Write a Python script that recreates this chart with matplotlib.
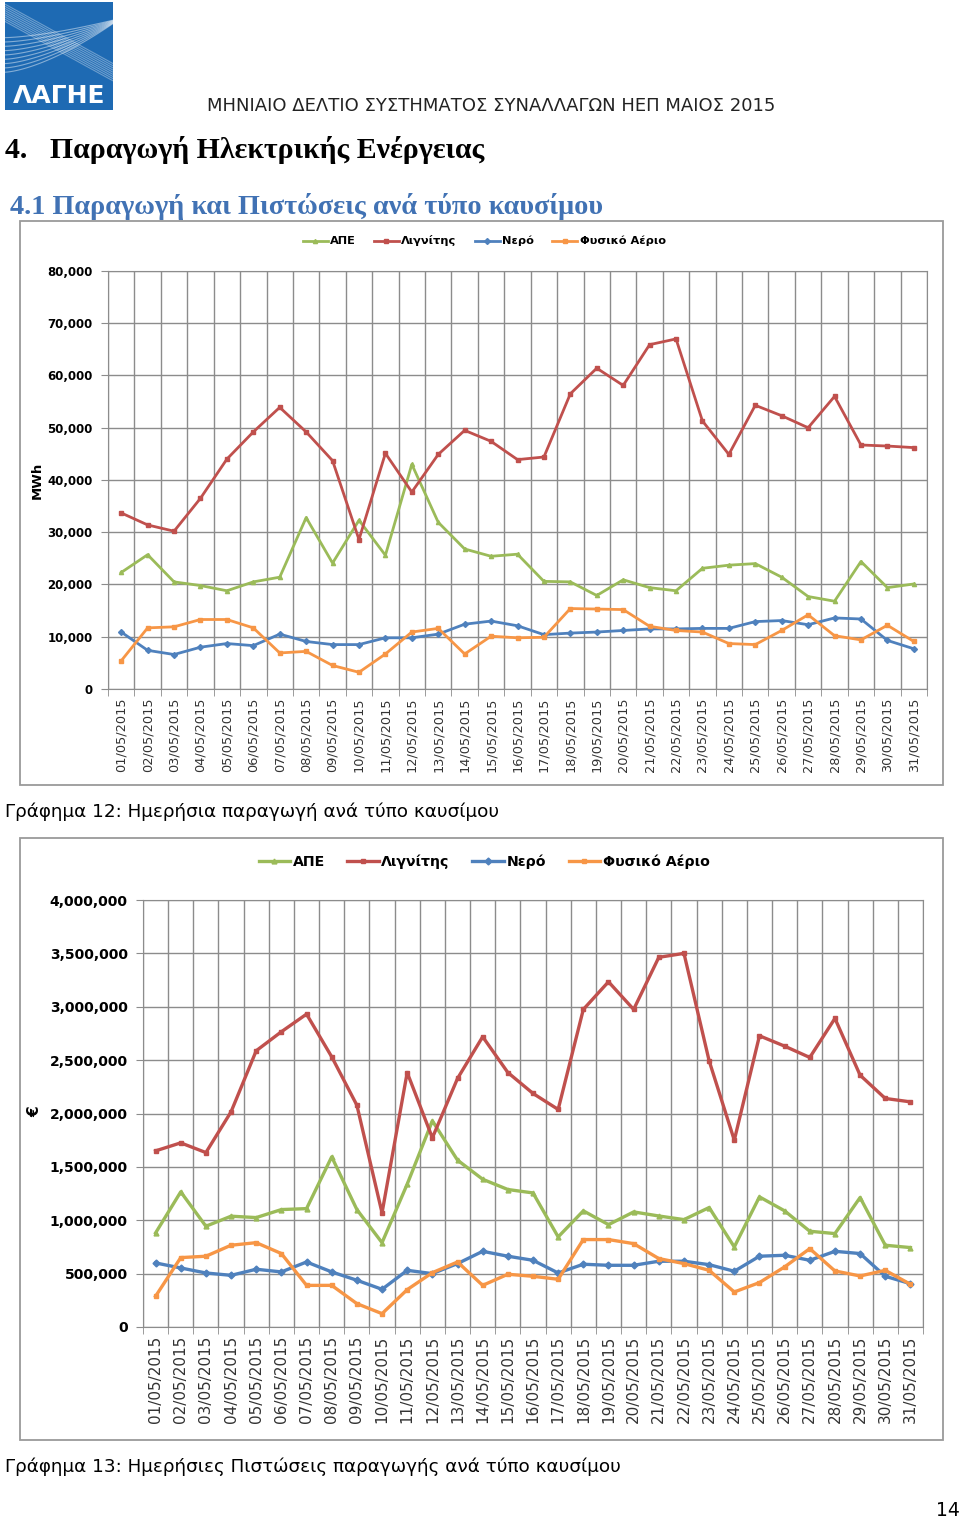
"""Daily production and credits per fuel type, May 2015 (two stacked charts
on a report page)."""

import matplotlib
matplotlib.use("Agg")
import matplotlib.pyplot as plt
from matplotlib.patches import Rectangle
from matplotlib.ticker import FuncFormatter, MultipleLocator
import numpy as np

W, H = 960, 1519

days = np.arange(1, 32)
date_labels = [f"{d:02d}/05/2015" for d in days]

series_names = ["ΑΠΕ", "Λιγνίτης", "Νερό", "Φυσικό Αέριο"]

# Chart 12: daily production (MWh)
ape_mwh = [22300, 25700, 20500, 19800, 18800, 20500, 21400, 32800, 24100, 32300,
           25600, 43000, 31900, 26800, 25400, 25800, 20600, 20500, 17900, 20900,
           19400, 18800, 23100, 23700, 24000, 21400, 17700, 16800, 24400, 19400, 20100]
lignite_mwh = [33700, 31400, 30200, 36500, 44000, 49200, 53900, 49200, 43700, 28600,
               45100, 37700, 44900, 49500, 47400, 43900, 44400, 56500, 61400, 58100,
               65900, 67000, 51300, 44900, 54300, 52300, 50000, 56000, 46700, 46500, 46200]
hydro_mwh = [10900, 7400, 6600, 8000, 8700, 8300, 10500, 9100, 8500, 8500,
             9800, 9800, 10500, 12400, 13000, 12100, 10400, 10700, 10900, 11200,
             11500, 11500, 11600, 11600, 12900, 13100, 12300, 13600, 13400, 9300, 7700]
gas_mwh = [5400, 11700, 11900, 13300, 13300, 11700, 6900, 7200, 4500, 3200,
           6700, 10900, 11600, 6700, 10100, 9800, 9900, 15400, 15300, 15200,
           12000, 11200, 10900, 8700, 8500, 11200, 14200, 10200, 9400, 12200, 9100]

# Chart 13: daily production credits (EUR)
ape_eur = [881000, 1266000, 944000, 1038000, 1025000, 1100000, 1109000, 1594000,
           1100000, 790000, 1338000, 1931000, 1563000, 1384000, 1288000, 1256000,
           844000, 1088000, 959000, 1078000, 1040000, 1006000, 1119000, 750000,
           1219000, 1088000, 897000, 875000, 1213000, 766000, 744000]
lignite_eur = [1650000, 1725000, 1634000, 2016000, 2588000, 2766000, 2931000, 2531000,
               2078000, 1069000, 2384000, 1772000, 2328000, 2719000, 2384000, 2188000,
               2038000, 2975000, 3234000, 2975000, 3463000, 3500000, 2494000, 1750000,
               2728000, 2631000, 2525000, 2891000, 2359000, 2141000, 2109000]
hydro_eur = [600000, 553000, 506000, 484000, 541000, 516000, 609000, 516000,
             438000, 353000, 531000, 500000, 594000, 709000, 663000, 625000,
             506000, 588000, 578000, 578000, 616000, 616000, 584000, 522000,
             663000, 672000, 625000, 709000, 688000, 475000, 406000]
gas_eur = [288000, 650000, 663000, 766000, 790000, 688000, 390000, 390000,
           219000, 125000, 350000, 509000, 609000, 390000, 494000, 475000,
           447000, 819000, 819000, 781000, 641000, 594000, 531000, 328000,
           416000, 563000, 734000, 525000, 478000, 531000, 400000]

COLORS = ["#9bbb59", "#c0504d", "#4f81bd", "#f79646"]
MARKERS = ["^", "s", "D", "s"]
GRID = "#8c8c8c"
SERIF = ["Liberation Serif", "DejaVu Serif"]


def rect(x0, y0, x1, y1):
    """Pixel box (top-left origin) -> figure fraction box."""
    return [x0 / W, 1 - y1 / H, (x1 - x0) / W, (y1 - y0) / H]


def draw_chart(fig, box, plot, series, ymax, ystep, ylabel, ylabel_xy,
               legend_y, fs_y, fs_x, fs_leg, lw, ms):
    fig.patches.append(Rectangle((box[0] / W, 1 - box[3] / H),
                                 (box[2] - box[0]) / W, (box[3] - box[1]) / H,
                                 transform=fig.transFigure, fill=False,
                                 edgecolor="#9a9a9a", linewidth=1.3))
    ax = fig.add_axes(rect(*plot))
    handles = []
    for vals, name, c, m in zip(series, series_names, COLORS, MARKERS):
        h, = ax.plot(days, vals, color=c, linewidth=lw, marker=m,
                     markersize=ms, label=name, zorder=3)
        handles.append(h)
    ax.set_xlim(0.5, 31.5)
    ax.set_ylim(0, ymax)
    ax.yaxis.set_major_locator(MultipleLocator(ystep))
    ax.yaxis.set_major_formatter(FuncFormatter(lambda v, p: f"{v:,.0f}"))
    ax.set_xticks(days)
    ax.set_xticklabels(date_labels, rotation=90, fontsize=fs_x, color="#333333")
    ax.set_xticks(np.arange(0.5, 32, 1), minor=True)
    ax.tick_params(axis="x", which="major", length=0, pad=6)
    ax.tick_params(axis="x", which="minor", length=5, color=GRID, direction="out")
    ax.tick_params(axis="y", length=5, color=GRID, labelsize=fs_y, pad=6)
    for t in ax.get_yticklabels():
        t.set_fontweight("bold")
    ax.grid(True, which="minor", axis="x", color=GRID, linewidth=1)
    ax.grid(True, which="major", axis="y", color=GRID, linewidth=1)
    for s in ax.spines.values():
        s.set_color(GRID)
    fig.text(ylabel_xy[0] / W, 1 - ylabel_xy[1] / H, ylabel, rotation=90,
             ha="center", va="center", fontsize=fs_y + 1, fontweight="bold")
    fig.legend(handles=handles, loc="center", ncol=4, frameon=False,
               bbox_to_anchor=(484 / W, 1 - legend_y / H),
               prop={"size": fs_leg, "weight": "bold"}, handlelength=2.2,
               columnspacing=1.6, handletextpad=0.2)
    return ax


fig = plt.figure(figsize=(W / 100, H / 100), dpi=100)

# logo
lax = fig.add_axes(rect(5, 2, 113, 110))
lax.set_xlim(0, 1)
lax.set_ylim(0, 1)
lax.add_patch(Rectangle((0, 0), 1, 1, color="#1e6ab3"))
for i in range(9):
    t = np.linspace(0, 1, 50)
    lax.plot(t, 0.35 + 0.04 * i + 0.45 * t ** 1.5 * (1 - 0.08 * i), color="white",
             alpha=0.45, linewidth=0.8)
    lax.plot(t, 0.98 - 0.55 * t - 0.02 * i, color="white", alpha=0.35, linewidth=0.8)
lax.add_patch(Rectangle((0, 0), 1, 0.25, color="#1e6ab3"))
lax.text(0.5, 0.13, "ΛΑΓΗΕ", color="white", fontsize=18, fontweight="bold",
         ha="center", va="center")
lax.axis("off")

fig.text(207 / W, 1 - 106 / H, "ΜΗΝΙΑΙΟ ΔΕΛΤΙΟ ΣΥΣΤΗΜΑΤΟΣ ΣΥΝΑΛΛΑΓΩΝ ΗΕΠ ΜΑΙΟΣ 2015",
         fontsize=13, ha="left", va="center", color="#222222")
fig.text(5 / W, 1 - 150 / H, "4.   Παραγωγή Ηλεκτρικής Ενέργειας",
         family=SERIF, fontsize=21.5, fontweight="bold", ha="left", va="center")
fig.text(10 / W, 1 - 206 / H, "4.1 Παραγωγή και Πιστώσεις ανά τύπο καυσίμου",
         family=SERIF, fontsize=20.3, fontweight="bold", ha="left", va="center",
         color="#4172b4")

draw_chart(fig, (20, 221, 943, 785), (108, 271, 927, 689),
           [ape_mwh, lignite_mwh, hydro_mwh, gas_mwh], 80000, 10000,
           "MWh", (37, 480), 241, 8.5, 9.3, 8.2, 2.0, 3)
fig.text(5 / W, 1 - 812 / H, "Γράφημα 12: Ημερήσια παραγωγή ανά τύπο καυσίμου",
         fontsize=13.2, ha="left", va="center")

draw_chart(fig, (20, 838, 943, 1440), (143, 900, 923, 1327),
           [ape_eur, lignite_eur, hydro_eur, gas_eur], 4000000, 500000,
           "€", (35, 1112), 862, 10, 11, 10.2, 2.4, 3.5)
fig.text(5 / W, 1 - 1467 / H,
         "Γράφημα 13: Ημερήσιες Πιστώσεις παραγωγής ανά τύπο καυσίμου",
         fontsize=13.2, ha="left", va="center")

fig.text(948 / W, 1 - 1510 / H, "14", fontsize=13.5, ha="center", va="center")

fig.savefig("out.png", dpi=100)
